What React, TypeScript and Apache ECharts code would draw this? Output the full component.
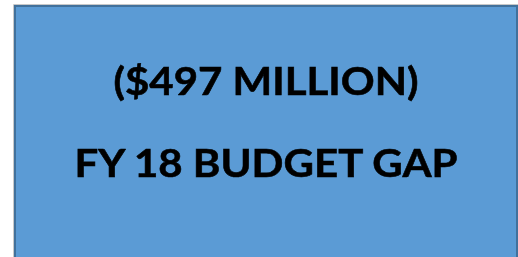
import React, { useEffect, useRef } from "react";
import * as echarts from "echarts";

const lines = ["($497 MILLION)", "FY 18 BUDGET GAP"];
const lineY = [81, 163];

export default function App() {
  const ref = useRef<HTMLDivElement>(null);
  useEffect(() => {
    if (!ref.current) return;
    const chart = echarts.init(ref.current, null, { renderer: "svg" });
    chart.setOption({
      animation: false,
      graphic: [
        {
          type: "rect",
          shape: { x: 13.5, y: 4.5, width: 510, height: 270 },
          style: { fill: "none", stroke: "#c8c8c8", lineWidth: 1 },
        },
        {
          type: "rect",
          shape: { x: 15, y: 6, width: 502, height: 270 },
          style: { fill: "#5b9bd5", stroke: "#41719c", lineWidth: 2 },
        },
        ...lines.map((t, i) => ({
          type: "text",
          x: 266,
          y: lineY[i],
          scaleY: 0.9,
          style: {
            text: t,
            fill: "#000000",
            font: "bold 42px Lato",
            align: "center",
            verticalAlign: "middle",
            stroke: "#000000",
            lineWidth: 0.6,
          },
        })),
      ],
    });
    return () => chart.dispose();
  }, []);
  return (
    <div
      ref={ref}
      style={{ position: "fixed", left: 0, top: 0, width: 518, height: 257 }}
    />
  );
}
